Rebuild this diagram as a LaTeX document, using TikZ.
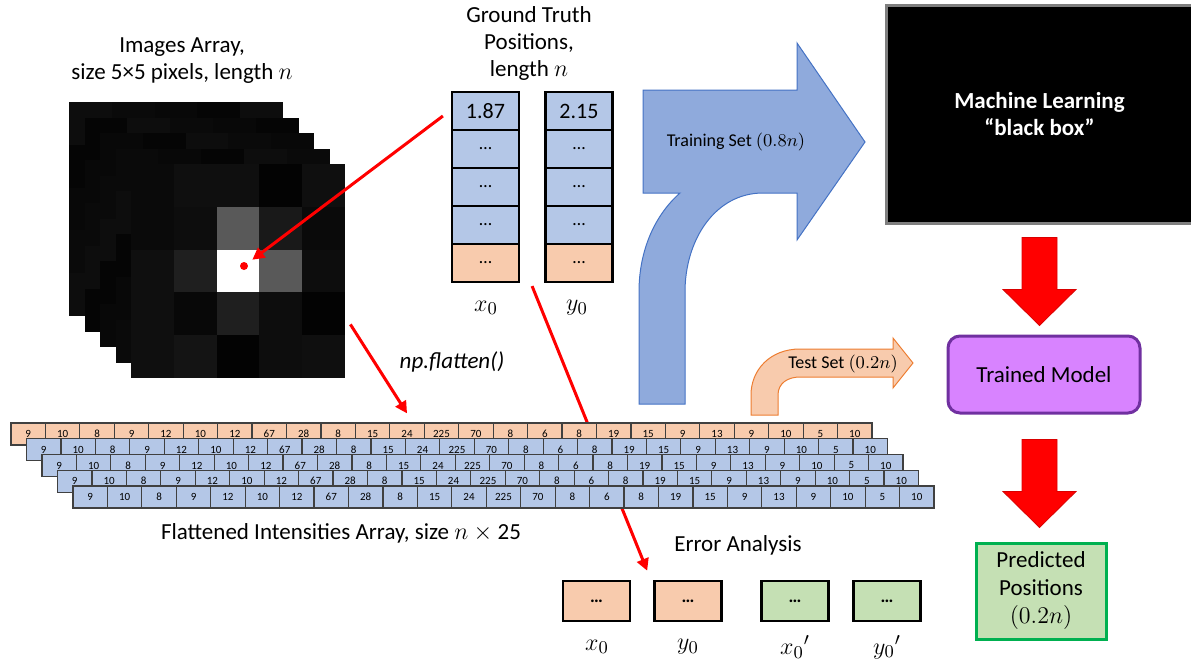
\documentclass[tikz,border=0pt]{standalone}
\usepackage{fontspec}
\setmainfont{Carlito}
\usetikzlibrary{arrows.meta,positioning,calc}
\definecolor{CellBlue}{HTML}{B4C7E7}
\definecolor{CellOrange}{HTML}{F8CBAD}
\definecolor{CellGreen}{HTML}{C5E0B4}
\definecolor{ArrowBlue}{HTML}{8FAADC}
\definecolor{ArrowBlueEdge}{HTML}{4472C4}
\definecolor{ArrowOrangeEdge}{HTML}{ED7D31}
\definecolor{ModelPurple}{HTML}{D883FF}
\definecolor{ModelEdge}{HTML}{7030A0}
\definecolor{PredEdge}{HTML}{00B050}
\definecolor{BoxGray}{HTML}{7F7F7F}

\begin{document}
\begin{tikzpicture}[
  x=0.5pt,y=-0.5pt,
  font=\fontsize{11.5}{13.5}\selectfont,
  >=Latex,
  gtcell/.style={draw,line width=1.1pt,minimum width=33.5pt,minimum height=19pt,inner sep=0pt,font=\fontsize{11}{12}\selectfont},
  flatcell/.style={draw=black!75,line width=0.6pt,minimum width=17.22pt,minimum height=11pt,inner sep=0pt,font=\fontsize{5.5}{6}\selectfont},
  errbox/.style={draw,line width=1.3pt,minimum width=33.5pt,minimum height=20pt,inner sep=0pt,font=\fontsize{9}{10}\selectfont\bfseries},
  mathlbl/.style={font=\fontsize{12.5}{14}\selectfont},
  redarr/.style={-{Triangle[length=6pt,width=6pt]},line width=1.5pt,red},
  bigred/.style={fill=red,draw=red!85!black,line width=0.4pt}
]
  \useasboundingbox (0,0) rectangle (1191,659);

  % image stack, back layers first
  \foreach \l in {0,...,3}
    \foreach \r in {1,...,5}
      \foreach \c in {1,...,5} {
        \pgfmathtruncatemacro\k{95+mod(7*\l+3*\r+5*\c,4)}
        \fill[black!\k] ({69+15.5*\l+42.8*(\c-1)},{102+15.5*\l+42.8*(\r-1)}) rectangle ++(42.9,42.9);
      }
  \foreach \row [count=\r] in {{96,94,94,99,94},{96,95,65,90,96},{94,88,0,65,95},{94,97,88,95,99},{94,92,99,95,94}}
    \foreach \k [count=\c] in \row
      \fill[black!\k] ({131+42.8*(\c-1)},{164+42.8*(\r-1)}) rectangle ++(42.9,42.9);
  \node[minimum size=107pt,inner sep=0pt] (img) at (238,271) {};
  \node[circle,fill=red,inner sep=0pt,minimum size=4pt] (dot) at (244,266) {};
  \node[align=center] (imgtitle) at (182,61) {Images Array,\\size 5×5 pixels, length $n$};

  % ground truth columns
  \node[align=center] (gttitle) at (529,43) {Ground Truth\\Positions,\\length $n$};
  \foreach \col/\xc/\first in {x/485.5/1.87,y/579/2.15} {
    \node[gtcell,fill=CellBlue] (\col1) at (\xc,111) {\first};
    \foreach \i in {2,3,4}
      \node[gtcell,fill=CellBlue] (\col\i) at (\xc,{111+38*(\i-1)}) {\fontsize{9}{10}\selectfont\dots};
    \node[gtcell,fill=CellOrange] (\col5) at (\xc,263) {\fontsize{9}{10}\selectfont\dots};
  }
  \node[mathlbl] (xlbl) at (486,308) {$x_0$};
  \node[mathlbl] (ylbl) at (577,308) {$y_0$};
  \draw[redarr,shorten >=3pt] ([xshift=-4pt,yshift=-2.5pt]x1.west) -- (dot);

  % error analysis
  \node (errtitle) at (738,545) {Error Analysis};
  \node[errbox,fill=CellOrange] (ex) at (596.5,601) {\dots};
  \node[errbox,fill=CellOrange] (ey) at (688,601) {\dots};
  \node[errbox,fill=CellGreen] (exp) at (795,601) {\dots};
  \node[errbox,fill=CellGreen] (eyp) at (887,601) {\dots};
  \node[mathlbl] (exlbl) at (597,647) {$x_0$};
  \node[mathlbl] (eylbl) at (688,647) {$y_0$};
  \node[mathlbl] (explbl) at (795,647) {${x_0}'$};
  \node[mathlbl] (eyplbl) at (887,647) {${y_0}'$};
  \draw[redarr] ([xshift=6pt,yshift=-1.5pt]x5.south east) -- ([xshift=-3pt,yshift=4.5pt]ey.north west);

  % flattened intensities
  \foreach \r in {0,...,4} {
    \ifnum\r=0 \def\rowfill{CellOrange}\else\def\rowfill{CellBlue}\fi
    \foreach \v [count=\c] in {9,10,8,9,12,10,12,67,28,8,15,24,225,70,8,6,8,19,15,9,13,9,10,5,10}
      \node[flatcell,fill=\rowfill] (f-\r-\c) at ({11+15.5*\r+(\c-0.5)*34.44},{434+15.75*\r}) {\v};
  }
  \node (flattitle) at (341,533) {Flattened Intensities Array, size $n\times{}$25};
  \draw[redarr] ([xshift=2.5pt,yshift=27pt]img.south east) -- ([yshift=4.5pt]f-0-12.north);
  \node[font=\fontsize{11.5}{13.5}\selectfont\itshape] (flatlbl) at (452,362) {np.flatten()};

  % training and test arrows
  \filldraw[fill=ArrowBlue,draw=ArrowBlueEdge,line width=0.5pt]
    (639,404) -- (685,404) -- (685,292) .. controls (685,240) and (715,193) .. (763,193)
    -- (797,193) -- (797,240) -- (865,142) -- (797,43) -- (797,90) -- (643,90) -- (643,193)
    -- (680,193) .. controls (655,215) and (639,250) .. (639,292) -- cycle;
  \node[font=\fontsize{9}{10}\selectfont] (trainlbl) at (736,142) {Training Set $(0.8n)$};
  \filldraw[fill=CellOrange,draw=ArrowOrangeEdge,line width=0.5pt]
    (751,415) -- (778,415) -- (778,395) .. controls (778,383) and (788,377) .. (800,377)
    -- (893,377) -- (893,388) -- (913,363) -- (893,338) -- (893,349) -- (800,349)
    .. controls (770,349) and (751,370) .. (751,395) -- cycle;
  \node[font=\fontsize{9}{10}\selectfont] (testlbl) at (843,364) {Test Set $(0.2n)$};

  % model side
  \node[fill=black,draw=BoxGray,line width=1.5pt,minimum width=153.5pt,minimum height=109pt,
    text=white,font=\fontsize{11.5}{13.5}\selectfont\bfseries,align=center] (mlbox) at (1039.5,114)
    {Machine Learning\\“black box”};
  \node[rounded corners=6pt,fill=ModelPurple,draw=ModelEdge,line width=1.5pt,
    minimum width=96pt,minimum height=38.5pt] (model) at (1044,374.5) {Trained Model};
  \node[fill=CellGreen,draw=PredEdge,line width=1.5pt,minimum width=65pt,minimum height=48pt,
    align=center,font=\fontsize{11.5}{14}\selectfont] (pred) at (1041,591)
    {Predicted\\Positions\\$(0.2n)$};
  \foreach \src/\gap in {mlbox/13,model/25}
    \filldraw[bigred] ($(mlbox.south |- \src.south)+(-17.5,\gap)$) -- ++(35,0) -- ++(0,52)
      -- ++(19,0) -- ++(-36.5,36) -- ++(-36.5,-36) -- ++(19,0) -- cycle;
\end{tikzpicture}
\end{document}
